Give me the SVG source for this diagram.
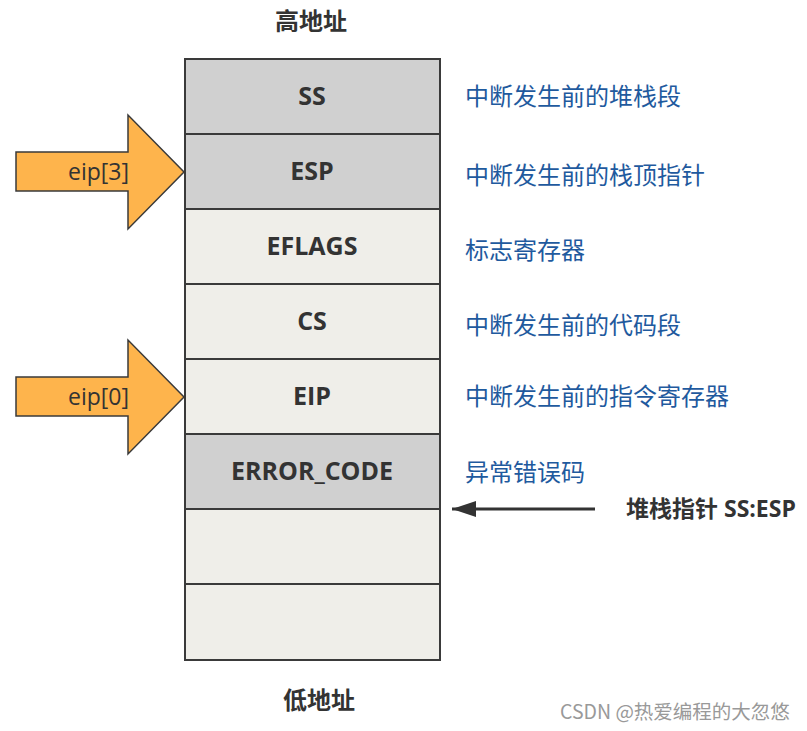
<svg xmlns="http://www.w3.org/2000/svg" width="807" height="731" viewBox="0 0 807 731">
<style>
.cell{stroke:#3a3a3a;stroke-width:2}
.g{fill:#d0d0d0}
.l{fill:#efeee9}
.ct{font-family:"Open Sans","Noto Sans CJK SC",sans-serif;font-size:25px;font-weight:bold;fill:#333;text-anchor:middle}
.desc{font-family:"Noto Sans CJK SC",sans-serif;font-size:24px;fill:#1f5a9e}
.hdr{font-family:"Noto Sans CJK SC",sans-serif;font-size:24px;font-weight:bold;fill:#333;text-anchor:middle}
.arr{fill:#feb44c;stroke:#3a3a3a;stroke-width:1.5;stroke-linejoin:miter}
.at{font-family:"Open Sans","Noto Sans CJK SC",sans-serif;font-size:23px;fill:#333;text-anchor:middle}
</style>
<defs>
<marker id="ah" viewBox="0 0 24 16" refX="24" refY="8" markerWidth="24" markerHeight="16" orient="auto" markerUnits="userSpaceOnUse">
<path d="M0,0 L24,8 L0,16 Z" fill="#333"/>
</marker>
</defs>
<rect width="807" height="731" fill="#fff"/>
<text class="hdr" x="311" y="30">高地址</text>
<text class="hdr" x="319" y="709">低地址</text>
<g id="stack">
<g id="row-ss"><rect class="cell g" x="185" y="59" width="255" height="75"/><text class="ct" x="312" y="105">SS</text></g>
<g id="row-esp"><rect class="cell g" x="185" y="134" width="255" height="75"/><text class="ct" x="312" y="180">ESP</text></g>
<g id="row-eflags"><rect class="cell l" x="185" y="209" width="255" height="75"/><text class="ct" x="312" y="255">EFLAGS</text></g>
<g id="row-cs"><rect class="cell l" x="185" y="284" width="255" height="75"/><text class="ct" x="312" y="330">CS</text></g>
<g id="row-eip"><rect class="cell l" x="185" y="359" width="255" height="75"/><text class="ct" x="312" y="405">EIP</text></g>
<g id="row-err"><rect class="cell g" x="185" y="434" width="255" height="75"/><text class="ct" x="312" y="480">ERROR_CODE</text></g>
<g id="row-e1"><rect class="cell l" x="185" y="509" width="255" height="75"/></g>
<g id="row-e2"><rect class="cell l" x="185" y="584" width="255" height="76"/></g>
</g>
<g id="labels">
<text class="desc" x="465" y="105">中断发生前的堆栈段</text>
<text class="desc" x="465" y="184">中断发生前的栈顶指针</text>
<text class="desc" x="465" y="259">标志寄存器</text>
<text class="desc" x="465" y="334">中断发生前的代码段</text>
<text class="desc" x="465" y="405">中断发生前的指令寄存器</text>
<text class="desc" x="465" y="481">异常错误码</text>
</g>
<g id="arrow-eip3">
<path class="arr" d="M16,152 L128,152 L128,115 L184,172 L128,229 L128,191 L16,191 Z"/>
<text class="at" x="98.5" y="180">eip[3]</text>
</g>
<g id="arrow-eip0">
<path class="arr" d="M16,377 L128,377 L128,340 L184,397 L128,454 L128,416 L16,416 Z"/>
<text class="at" x="98.5" y="405">eip[0]</text>
</g>
<g id="connectors">
<line x1="595" y1="509" x2="452" y2="509" stroke="#333" stroke-width="3" marker-end="url(#ah)"/>
</g>
<g id="sp-label">
<text x="626" y="517" font-family="Open Sans,Noto Sans CJK SC,sans-serif" font-size="23" font-weight="bold" fill="#333">堆栈指针 SS:ESP</text>
</g>
<text x="560" y="719" font-family="Noto Sans CJK SC,sans-serif" font-size="19.5" fill="#999">CSDN @热爱编程的大忽悠</text>
</svg>
